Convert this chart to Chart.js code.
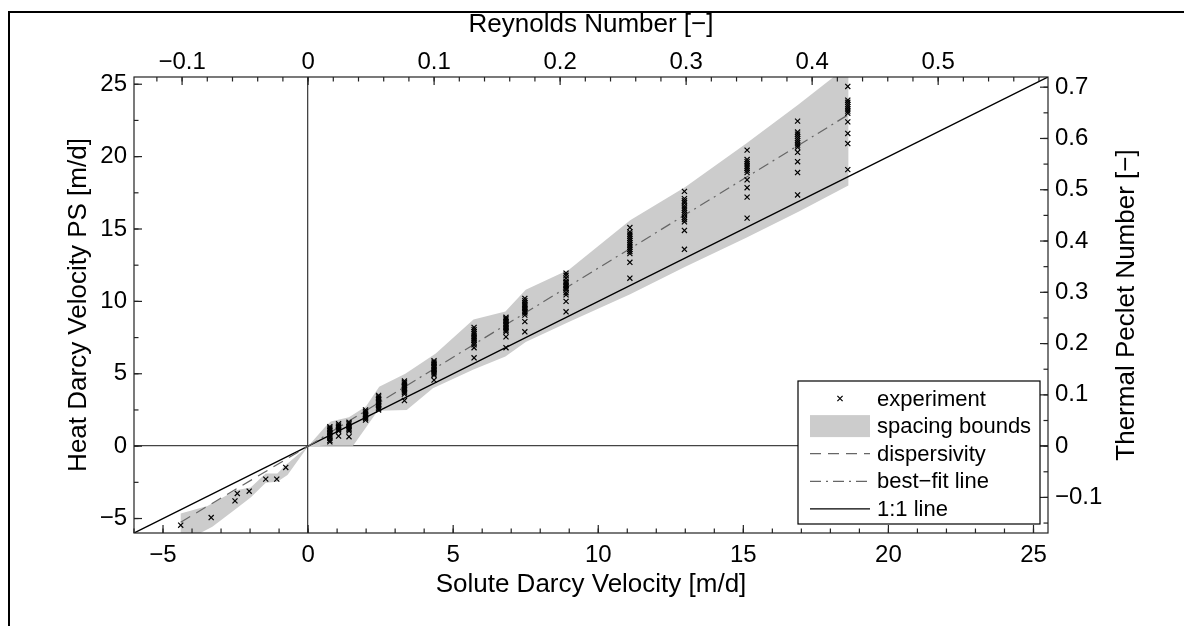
<!DOCTYPE html>
<html>
<head>
<meta charset="utf-8">
<script src="https://cdn.jsdelivr.net/npm/chart.js@4.4.1/dist/chart.umd.min.js"></script>
<style>
  html, body { margin: 0; padding: 0; background: #fff; }
  #wrap { width: 1184px; height: 626px; }
</style>
</head>
<body>
<div id="wrap"><canvas id="chart" width="1184" height="626"></canvas></div>
<script>
// solute Darcy velocity of each test [m/d]
const soluteVelocity = [-4.39, -3.34, -2.52, -2.44, -2.03, -1.46, -1.08, -0.77,
  0.75, 1.05, 1.41, 1.98, 2.43, 3.32, 4.34, 5.72, 6.82, 7.47, 8.89, 11.09, 12.97, 15.13, 16.87, 18.6];

// heat Darcy velocity (PS) of the repeats at each solute velocity [m/d]
const heatVelocity = [
  [-5.46], [-4.93], [-3.78], [-3.27], [-3.11], [-2.28], [-2.28], [-1.47],
  [1.35, 1.25, 1.15, 1.05, 0.95, 0.85, 0.75, 0.65, 0.55, 0.4, 0.3],
  [1.55, 1.45, 1.35, 1.25, 1.15, 1.05, 0.7],
  [1.65, 1.55, 1.45, 1.35, 1.25, 1.15, 1.05, 0.65],
  [2.5, 2.4, 2.3, 2.2, 2.1, 2.0, 1.9, 1.8],
  [3.5, 3.4, 3.3, 3.2, 3.1, 3.0, 2.9, 2.8, 2.7, 2.6, 2.5],
  [4.5, 4.4, 4.3, 4.2, 4.1, 4.0, 3.9, 3.8, 3.7, 3.6, 3.15],
  [5.9, 5.8, 5.7, 5.6, 5.5, 5.4, 5.3, 5.2, 5.1, 5.0, 4.9, 4.56],
  [8.2, 8.05, 7.9, 7.75, 7.6, 7.5, 7.4, 7.3, 7.15, 7.0, 6.8, 6.1],
  [8.9, 8.8, 8.7, 8.6, 8.5, 8.4, 8.3, 8.2, 8.1, 8.0, 7.9, 7.55, 6.8],
  [10.2, 10.05, 9.9, 9.8, 9.7, 9.6, 9.5, 9.4, 9.3, 9.2, 9.05, 8.6, 7.9],
  [11.95, 11.8, 11.6, 11.4, 11.3, 11.2, 11.1, 11.0, 10.9, 10.8, 10.6, 10.45, 10.0, 9.28],
  [15.1, 14.8, 14.65, 14.5, 14.35, 14.2, 14.05, 13.9, 13.75, 13.6, 13.45, 13.3, 12.7, 11.6],
  [17.6, 17.1, 16.95, 16.8, 16.6, 16.45, 16.3, 16.15, 16.0, 15.8, 15.65, 15.5, 14.9, 13.6],
  [20.45, 19.8, 19.65, 19.5, 19.35, 19.2, 19.05, 18.9, 18.4, 17.85, 17.2, 15.75],
  [22.45, 21.7, 21.55, 21.4, 21.25, 21.1, 20.95, 20.8, 20.65, 20.3, 19.65, 18.9, 17.35],
  [24.85, 23.9, 23.75, 23.6, 23.45, 23.3, 23.15, 23.0, 22.4, 21.6, 20.9, 19.1]
];

// spacing bounds (upper edge left->right, lower edge right->left)
const boundUpperX = [-4.39, -3.47, -2.49, -1.98, -1.46, -1.06, -0.77, 0, 0.6, 0.78, 1.41, 2.0, 2.45, 3.35, 4.4, 5.7, 6.8, 7.5, 9.0, 11.1, 13.0, 15.1, 16.9, 18.62];
const boundUpperY = [-4.65, -4.14, -3.04, -2.86, -1.89, -1.89, -1.31, 0, 1.35, 1.7, 2.0, 2.75, 4.1, 5.0, 6.4, 8.75, 9.3, 10.8, 12.2, 15.6, 17.9, 20.9, 23.6, 26.3];
const boundLowerX = [18.62, 16.9, 15.1, 13.0, 11.1, 9.0, 7.5, 6.8, 5.7, 4.3, 3.4, 2.4, 2.0, 1.55, 0.72, 0, -0.71, -1.06, -1.46, -1.98, -2.55, -3.3, -4.39];
const boundLowerY = [18.0, 16.2, 14.4, 12.4, 10.5, 8.6, 7.2, 6.2, 5.3, 4.0, 2.5, 2.45, 1.3, 0.03, 0.03, 0, -2.0, -2.46, -2.53, -3.55, -4.42, -5.57, -6.7];

const dispersivityX = [-4.39, 0];
const dispersivityY = [-5.25, 0];
const bestFitX = [0, 18.62];
const bestFitY = [0, 22.9];
const oneToOneX = [-6, 25.5];

// axes
const velocityRange = [-6, 25.5];
const soluteTicks = [-5, 0, 5, 10, 15, 20, 25];
const heatTicks = [-5, 0, 5, 10, 15, 20, 25];
const reynoldsTicks = [-0.1, 0, 0.1, 0.2, 0.3, 0.4, 0.5];
const pecletTicks = [-0.1, 0, 0.1, 0.2, 0.3, 0.4, 0.5, 0.6, 0.7];
const reynoldsPerVelocity = 0.023026;
const pecletPerVelocity = 0.02823;

const fontFamily = '"Liberation Sans", Arial, sans-serif';
const toPoints = (xs, ys) => xs.map((x, i) => ({ x: x, y: ys[i] }));
const fmt = v => String(v).replace('-', '\u2212');

const experimentPoints = [];
soluteVelocity.forEach((x, i) => heatVelocity[i].forEach(y => experimentPoints.push({ x: x, y: y })));

const bandPoints = toPoints(boundUpperX, boundUpperY).concat(toPoints(boundLowerX, boundLowerY));

const datasets = [
  {
    label: 'experiment', data: experimentPoints, order: 0,
    pointStyle: 'crossRot', pointRadius: 3.6, pointBorderWidth: 1.2,
    borderColor: '#000', backgroundColor: '#000', showLine: false
  },
  {
    label: 'best\u2212fit line', data: toPoints(bestFitX, bestFitY), order: 1,
    showLine: true, pointRadius: 0, borderColor: '#666', borderWidth: 1.2,
    borderDash: [11, 5, 2, 5]
  },
  {
    label: 'dispersivity', data: toPoints(dispersivityX, dispersivityY), order: 2,
    showLine: true, pointRadius: 0, borderColor: '#666', borderWidth: 1.2,
    borderDash: [11, 7]
  },
  {
    label: '1:1 line', data: toPoints(oneToOneX, oneToOneX), order: 3,
    showLine: true, pointRadius: 0, borderColor: '#000', borderWidth: 1.4
  },
  {
    label: 'spacing bounds', data: bandPoints, order: 4,
    showLine: true, pointRadius: 0, borderWidth: 0, borderColor: 'rgba(0,0,0,0)',
    backgroundColor: '#cccccc', fill: 'shape', tension: 0
  }
];

const legendOrder = ['experiment', 'spacing bounds', 'dispersivity', 'best\u2212fit line', '1:1 line'];

function tickOptions(padding) {
  return { font: { family: fontFamily, size: 24, lineHeight: 1 }, color: '#000', padding: padding, callback: fmt };
}

function drawInwardTicks(ctx, area, scale, minorStep, side) {
  const draw = (v, len) => {
    const p = scale.getPixelForValue(v);
    ctx.beginPath();
    if (side === 'bottom') { ctx.moveTo(p, area.bottom); ctx.lineTo(p, area.bottom - len); }
    if (side === 'top') { ctx.moveTo(p, area.top); ctx.lineTo(p, area.top + len); }
    if (side === 'left') { ctx.moveTo(area.left, p); ctx.lineTo(area.left + len, p); }
    if (side === 'right') { ctx.moveTo(area.right, p); ctx.lineTo(area.right - len, p); }
    ctx.stroke();
  };
  const k0 = Math.ceil(scale.min / minorStep - 1e-9);
  const k1 = Math.floor(scale.max / minorStep + 1e-9);
  for (let k = k0; k <= k1; k++) draw(k * minorStep, 4.5);
  scale.ticks.forEach(t => draw(t.value, 8));
}

const decorations = {
  id: 'decorations',
  beforeDraw(chart) {
    const ctx = chart.ctx;
    ctx.save();
    ctx.fillStyle = '#fff';
    ctx.fillRect(0, 0, chart.width, chart.height);
    // figure frame
    ctx.strokeStyle = '#000';
    ctx.lineWidth = 2;
    ctx.beginPath();
    ctx.moveTo(9, chart.height);
    ctx.lineTo(9, 12);
    ctx.lineTo(chart.width, 12);
    ctx.stroke();
    ctx.restore();
  },
  afterDraw(chart) {
    const ctx = chart.ctx;
    const a = chart.chartArea;
    const s = chart.scales;
    ctx.save();

    // axes box and ticks
    ctx.strokeStyle = '#222';
    ctx.lineWidth = 1.2;
    ctx.strokeRect(a.left, a.top, a.right - a.left, a.bottom - a.top);
    drawInwardTicks(ctx, a, s.x, 1, 'bottom');
    drawInwardTicks(ctx, a, s.x2, 0.02, 'top');
    drawInwardTicks(ctx, a, s.y, 2.5, 'left');
    drawInwardTicks(ctx, a, s.y2, 0.05, 'right');

    // axis titles
    const cx = (a.left + a.right) / 2;
    const cy = (a.top + a.bottom) / 2;
    ctx.fillStyle = '#000';
    ctx.font = '26px ' + fontFamily;
    ctx.textAlign = 'center';
    ctx.textBaseline = 'alphabetic';
    ctx.fillText('Reynolds Number [\u2212]', cx, 32);
    ctx.fillText('Solute Darcy Velocity [m/d]', cx, 592);
    ctx.save();
    ctx.translate(86, cy);
    ctx.rotate(-Math.PI / 2);
    ctx.fillText('Heat Darcy Velocity PS [m/d]', 0, 0);
    ctx.restore();
    ctx.save();
    ctx.translate(1134, cy);
    ctx.rotate(-Math.PI / 2);
    ctx.fillText('Thermal Peclet Number [\u2212]', 0, 0);
    ctx.restore();

    // legend in the lower right corner of the axes
    const lw = 242, lh = 143;
    const lx = a.right - 8 - lw, ly = a.bottom - 9 - lh;
    ctx.fillStyle = '#fff';
    ctx.fillRect(lx, ly, lw, lh);
    ctx.strokeStyle = '#000';
    ctx.lineWidth = 1.2;
    ctx.strokeRect(lx, ly, lw, lh);
    ctx.font = '22px ' + fontFamily;
    ctx.textAlign = 'left';
    ctx.textBaseline = 'middle';
    legendOrder.forEach((name, i) => {
      const ds = chart.data.datasets.find(d => d.label === name);
      const ry = ly + 17.5 + i * 27.6;
      const sx0 = lx + 12, sx1 = lx + 72;
      ctx.save();
      if (name === 'experiment') {
        const r = 2.6;
        ctx.strokeStyle = '#000';
        ctx.lineWidth = 1.2;
        ctx.beginPath();
        ctx.moveTo((sx0 + sx1) / 2 - r, ry - r); ctx.lineTo((sx0 + sx1) / 2 + r, ry + r);
        ctx.moveTo((sx0 + sx1) / 2 - r, ry + r); ctx.lineTo((sx0 + sx1) / 2 + r, ry - r);
        ctx.stroke();
      } else if (name === 'spacing bounds') {
        ctx.fillStyle = ds.backgroundColor;
        ctx.fillRect(sx0, ry - 11, sx1 - sx0, 22);
      } else {
        ctx.strokeStyle = ds.borderColor;
        ctx.lineWidth = ds.borderWidth;
        ctx.setLineDash(ds.borderDash || []);
        ctx.beginPath();
        ctx.moveTo(sx0, ry);
        ctx.lineTo(sx1, ry);
        ctx.stroke();
      }
      ctx.restore();
      ctx.fillStyle = '#000';
      ctx.fillText(name, lx + 79, ry + 1);
    });
    ctx.restore();
  }
};

new Chart(document.getElementById('chart'), {
  type: 'scatter',
  data: { datasets: datasets },
  options: {
    responsive: false,
    animation: false,
    devicePixelRatio: 1,
    layout: { padding: 0 },
    plugins: { legend: { display: false }, tooltip: { enabled: false } },
    scales: {
      x: {
        type: 'linear', position: 'bottom',
        min: velocityRange[0], max: velocityRange[1],
        afterBuildTicks: sc => { sc.ticks = soluteTicks.map(v => ({ value: v })); },
        afterFit: sc => { sc.height = 93; },
        grid: { drawTicks: false, lineWidth: 1.3, color: c => (c.tick && c.tick.value === 0 ? '#444' : 'rgba(0,0,0,0)') },
        border: { display: false },
        ticks: tickOptions(10)
      },
      x2: {
        type: 'linear', position: 'top',
        min: velocityRange[0] * reynoldsPerVelocity, max: velocityRange[1] * reynoldsPerVelocity,
        afterBuildTicks: sc => { sc.ticks = reynoldsTicks.map(v => ({ value: v })); },
        afterFit: sc => { sc.height = 77; },
        grid: { display: false, drawTicks: false },
        border: { display: false },
        ticks: tickOptions(3)
      },
      y: {
        type: 'linear', position: 'left',
        min: velocityRange[0], max: velocityRange[1],
        afterBuildTicks: sc => { sc.ticks = heatTicks.map(v => ({ value: v })); },
        afterFit: sc => { sc.width = 134; },
        grid: { drawTicks: false, lineWidth: 1.3, color: c => (c.tick && c.tick.value === 0 ? '#444' : 'rgba(0,0,0,0)') },
        border: { display: false },
        ticks: tickOptions(7)
      },
      y2: {
        type: 'linear', position: 'right',
        min: velocityRange[0] * pecletPerVelocity, max: velocityRange[1] * pecletPerVelocity,
        afterBuildTicks: sc => { sc.ticks = pecletTicks.map(v => ({ value: v })); },
        afterFit: sc => { sc.width = 136; },
        grid: { display: false, drawTicks: false },
        border: { display: false },
        ticks: tickOptions(7)
      }
    }
  },
  plugins: [decorations]
});
</script>
</body>
</html>
